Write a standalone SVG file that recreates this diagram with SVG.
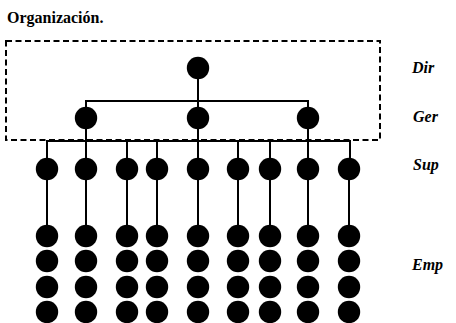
<svg xmlns="http://www.w3.org/2000/svg" width="456" height="323" viewBox="0 0 456 323">
  <style>
    .title { font-family: "Liberation Serif", "Times New Roman", serif; font-weight: bold; font-size: 16px; fill: #000; }
    .lvl { font-family: "Liberation Serif", "Times New Roman", serif; font-weight: bold; font-style: italic; font-size: 16px; fill: #000; }
    .node { fill: #000; }
    .edge { stroke: #000; stroke-width: 2; fill: none; }
    .frame { stroke: #000; stroke-width: 2; fill: none; stroke-dasharray: 6 3.5; }
  </style>
  <defs>
    <circle id="dot" r="11.2" class="node"/>
  </defs>

  <rect width="456" height="323" fill="#fff"/>

  <text class="title" x="7" y="23">Organización.</text>

  <!-- management boundary -->
  <rect class="frame" x="6" y="41" width="374" height="99"/>

  <!-- level labels -->
  <text class="lvl" x="412" y="73">Dir</text>
  <text class="lvl" x="413" y="122">Ger</text>
  <text class="lvl" x="413" y="170">Sup</text>
  <text class="lvl" x="412" y="270">Emp</text>

  <g id="connectors">
    <!-- director to managers -->
    <path class="edge" d="M198 68 V118 M86 118 V101 H308 V118"/>
    <!-- managers to supervisors -->
    <path class="edge" d="M86 118 V141 M198 118 V141 M308 118 V141 M47 169 V141 H350 V169"/>
    <path class="edge" d="M86 141 V169 M127 141 V169 M157 141 V169 M198 141 V169 M238 141 V169 M270 141 V169 M308 141 V169"/>
    <!-- supervisors to employees -->
    <path class="edge" d="M47 169 V236 M86 169 V236 M127 169 V236 M157 169 V236 M198 169 V236 M238 169 V236 M270 169 V236 M308 169 V236 M349 169 V236"/>
  </g>

  <g id="dir"><use href="#dot" x="198" y="68"/></g>

  <g id="ger">
    <use href="#dot" x="86" y="118"/>
    <use href="#dot" x="198" y="118"/>
    <use href="#dot" x="308" y="118"/>
  </g>

  <g id="sup">
    <use href="#dot" x="47" y="169"/>
    <use href="#dot" x="86" y="169"/>
    <use href="#dot" x="127" y="169"/>
    <use href="#dot" x="157" y="169"/>
    <use href="#dot" x="198" y="169"/>
    <use href="#dot" x="238" y="169"/>
    <use href="#dot" x="270" y="169"/>
    <use href="#dot" x="308" y="169"/>
    <use href="#dot" x="349" y="169"/>
  </g>

  <g id="emp">
    <g id="emp-row1">
      <use href="#dot" x="47" y="236"/><use href="#dot" x="86" y="236"/><use href="#dot" x="127" y="236"/>
      <use href="#dot" x="157" y="236"/><use href="#dot" x="198" y="236"/><use href="#dot" x="238" y="236"/>
      <use href="#dot" x="270" y="236"/><use href="#dot" x="308" y="236"/><use href="#dot" x="349" y="236"/>
    </g>
    <g id="emp-row2">
      <use href="#dot" x="47" y="261"/><use href="#dot" x="86" y="261"/><use href="#dot" x="127" y="261"/>
      <use href="#dot" x="157" y="261"/><use href="#dot" x="198" y="261"/><use href="#dot" x="238" y="261"/>
      <use href="#dot" x="270" y="261"/><use href="#dot" x="308" y="261"/><use href="#dot" x="349" y="261"/>
    </g>
    <g id="emp-row3">
      <use href="#dot" x="47" y="287"/><use href="#dot" x="86" y="287"/><use href="#dot" x="127" y="287"/>
      <use href="#dot" x="157" y="287"/><use href="#dot" x="198" y="287"/><use href="#dot" x="238" y="287"/>
      <use href="#dot" x="270" y="287"/><use href="#dot" x="308" y="287"/><use href="#dot" x="349" y="287"/>
    </g>
    <g id="emp-row4">
      <use href="#dot" x="47" y="312"/><use href="#dot" x="86" y="312"/><use href="#dot" x="127" y="312"/>
      <use href="#dot" x="157" y="312"/><use href="#dot" x="198" y="312"/><use href="#dot" x="238" y="312"/>
      <use href="#dot" x="270" y="312"/><use href="#dot" x="308" y="312"/><use href="#dot" x="349" y="312"/>
    </g>
  </g>
</svg>
